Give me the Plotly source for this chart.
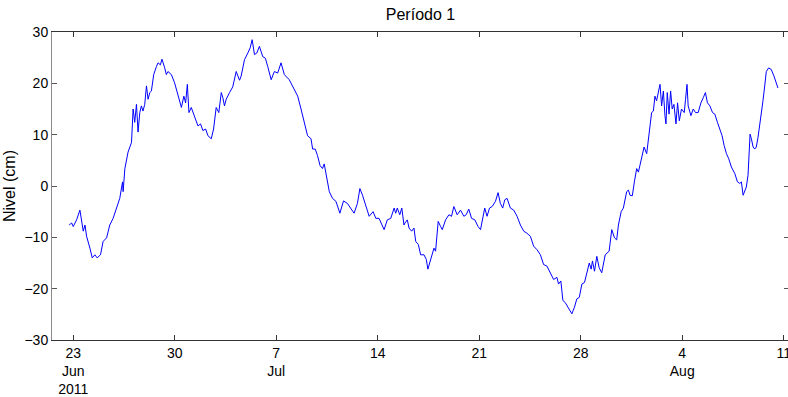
import pandas as pd
import plotly.graph_objects as go

# Days since 2011-06-23 00:00 and water level (cm)
dias = [-0.28, -0.11, 0.00, 0.23, 0.46, 0.58, 0.69, 0.81, 0.92, 1.15, 1.31, 1.49, 1.65, 1.88,
        2.06, 2.30, 2.52, 2.75, 2.99, 3.21, 3.40, 3.44, 3.56, 3.78, 4.02, 4.13, 4.24, 4.36,
        4.47, 4.59, 4.70, 4.81, 4.93, 5.05, 5.16, 5.28, 5.39, 5.55, 5.74, 5.85, 6.01, 6.12,
        6.31, 6.42, 6.53, 6.77, 6.99, 7.22, 7.46, 7.63, 7.75, 7.87, 7.98, 8.14, 8.37, 8.60,
        8.78, 8.94, 9.13, 9.29, 9.52, 9.68, 9.86, 10.04, 10.21, 10.32, 10.43, 10.55, 10.78,
        11.00, 11.24, 11.47, 11.58, 11.81, 12.04, 12.20, 12.34, 12.50, 12.66, 12.84, 13.07,
        13.25, 13.41, 13.65, 13.87, 14.10, 14.33, 14.56, 14.90, 15.25, 15.48, 15.71, 15.94,
        16.16, 16.40, 16.51, 16.69, 16.85, 17.02, 17.19, 17.31, 17.47, 17.66, 17.88, 18.12,
        18.39, 18.64, 18.91, 19.15, 19.37, 19.60, 19.77, 19.95, 20.18, 20.41, 20.68, 20.87,
        21.09, 21.25, 21.44, 21.66, 21.90, 22.13, 22.24, 22.35, 22.52, 22.66, 22.74, 22.81,
        22.88, 23.04, 23.16, 23.34, 23.50, 23.62, 23.80, 23.96, 24.19, 24.35, 24.46, 24.58,
        24.72, 24.88, 24.99, 25.17, 25.34, 25.45, 25.68, 25.91, 26.09, 26.25, 26.48, 26.71,
        26.94, 27.10, 27.28, 27.47, 27.70, 27.92, 28.09, 28.20, 28.38, 28.54, 28.71, 28.89,
        29.12, 29.30, 29.46, 29.62, 29.76, 29.92, 30.15, 30.38, 30.61, 30.84, 31.07, 31.29,
        31.53, 31.75, 31.98, 32.22, 32.44, 32.67, 32.90, 33.13, 33.36, 33.47, 33.63, 33.77,
        33.93, 34.04, 34.21, 34.39, 34.57, 34.73, 34.90, 35.08, 35.26, 35.42, 35.59, 35.72,
        35.81, 35.95, 36.11, 36.27, 36.45, 36.69, 36.96, 37.14, 37.33, 37.48, 37.60, 37.79,
        37.94, 38.17, 38.29, 38.40, 38.56, 38.70, 38.86, 38.98, 39.20, 39.37, 39.55, 39.66,
        39.78, 39.89, 40.01, 40.12, 40.23, 40.35, 40.47, 40.58, 40.70, 40.81, 40.88, 40.97,
        41.09, 41.20, 41.31, 41.43, 41.57, 41.68, 41.80, 41.95, 42.14, 42.23, 42.33, 42.41,
        42.60, 42.76, 42.92, 43.10, 43.29, 43.45, 43.60, 43.74, 43.91, 44.09, 44.25, 44.43,
        44.59, 44.75, 44.89, 45.05, 45.21, 45.39, 45.63, 45.81, 45.97, 46.08, 46.20, 46.31,
        46.42, 46.54, 46.61, 46.68, 46.77, 46.89, 47.00, 47.11, 47.23, 47.35, 47.46, 47.57,
        47.69, 47.80, 47.96, 48.14, 48.33, 48.49, 48.60]

nivel = [-7.6, -7.2, -7.9, -6.6, -4.7, -6.6, -8.8, -7.6, -9.8, -12.1, -14.0, -13.4, -14.0, -13.4,
         -10.8, -10.1, -7.6, -6.3, -4.3, -2.4, 0.8, -1.1, 3.4, 6.6, 8.5, 15.0, 12.4, 15.9,
         10.5, 14.3, 15.6, 14.6, 15.9, 19.5, 16.9, 18.2, 18.5, 21.7, 23.3, 24.0, 23.6, 24.7,
         23.0, 21.7, 22.3, 21.7, 20.1, 17.8, 15.3, 17.5, 16.2, 19.8, 14.3, 15.3, 13.4, 11.7,
         12.1, 10.8, 11.1, 9.8, 9.2, 11.1, 15.3, 14.3, 18.2, 17.2, 15.6, 16.9, 18.2,
         19.3, 22.3, 20.6, 21.4, 24.6, 25.9, 26.9, 28.5, 25.6, 25.9, 27.2, 25.2,
         24.9, 23.3, 20.7, 22.3, 22.0, 24.0, 21.7, 20.7, 18.8, 17.5, 15.0, 12.4,
         9.8, 9.2, 7.2, 7.2, 5.9, 4.0, 3.4, 4.3, 2.1, -1.1, -2.4, -3.0,
         -5.3, -2.9, -3.4, -4.3, -5.3, -3.4, -0.5, -1.8, -3.7, -5.9, -5.0, -6.3,
         -6.3, -7.2, -8.5, -6.6, -6.3, -4.3, -5.3, -4.3, -5.6, -4.3, -5.9, -7.6,
         -7.2, -6.6, -8.2, -8.8, -8.2, -10.8, -11.4, -13.4, -13.4, -14.3, -16.2, -15.0,
         -13.7, -12.1, -12.7, -6.9, -7.9, -8.5, -6.6, -5.6, -5.9, -4.0, -5.6, -4.7,
         -5.9, -5.6, -4.5, -6.3, -6.6, -7.9, -8.5, -6.9, -4.3, -5.9, -4.3, -4.0,
         -3.0, -1.3, -3.4, -4.3, -2.7, -2.4, -4.3, -4.7, -5.9, -7.6, -8.8, -9.2,
         -9.8, -11.7, -12.4, -13.4, -15.3, -15.6, -16.9, -18.2, -17.8, -19.1, -18.5, -22.3,
         -22.7, -23.3, -24.0, -24.9, -23.6, -22.0, -21.7, -19.1, -18.8, -17.2, -15.0, -16.2,
         -14.6, -16.6, -13.7, -15.9, -16.9, -13.4, -12.7, -8.5, -10.1, -10.5, -7.6, -5.0,
         -4.3, -1.1, -0.8, -1.8, -1.9, 0.8, 3.4, 2.7, 5.6, 7.6, 6.3, 8.8,
         10.8, 14.3, 14.6, 17.5, 16.6, 18.2, 19.8, 15.6, 18.5, 13.7, 12.1, 18.2,
         14.0, 18.5, 15.0, 15.9, 12.1, 16.2, 12.7, 15.0, 14.3, 16.9, 19.8, 15.6,
         13.7, 15.0, 14.3, 14.3, 16.2, 17.2, 18.2, 16.2, 15.6, 14.3, 14.0, 12.4,
         11.1, 9.8, 7.9, 6.3, 5.3, 3.7, 2.4, 0.8, 0.5, 0.8, -1.8, -0.8,
         -0.2, 2.1, 6.6, 10.1, 9.2, 7.6, 7.2, 7.6, 9.5, 11.7, 14.3, 16.6,
         19.5, 22.3, 23.0, 22.7, 21.4, 19.8, 19.1]

tick_fechas = ["2011-06-23", "2011-06-30", "2011-07-07", "2011-07-14",
               "2011-07-21", "2011-07-28", "2011-08-04", "2011-08-11"]
tick_textos = ["23<br>Jun<br>2011", "30", "7<br>Jul", "14", "21", "28", "4<br>Aug", "11"]
y_ticks = [-30, -20, -10, 0, 10, 20, 30]

inicio = pd.Timestamp("2011-06-23")
fechas = inicio + pd.to_timedelta(dias, unit="D")

fig = go.Figure()
fig.add_trace(go.Scatter(x=fechas, y=nivel, mode="lines",
                         line=dict(color="#0000ff", width=1), showlegend=False))

FAM = "Liberation Sans, Arial, sans-serif"
tfont = dict(family=FAM, size=14, color="#000000")

fig.update_layout(
    width=791, height=397,
    margin=dict(l=52, r=0, t=32, b=54),
    paper_bgcolor="white", plot_bgcolor="white",
    font=tfont,
    title=dict(text="Período 1", x=0.5, xref="paper", xanchor="center",
               y=1 - 14 / 397, yref="container", yanchor="middle",
               font=dict(family=FAM, size=16, color="#000")),
)
fig.update_xaxes(
    type="date",
    range=[inicio - pd.Timedelta(days=1.465), inicio + pd.Timedelta(days=49.365)],
    tickmode="array", tickvals=tick_fechas, ticktext=tick_textos,
    ticks="inside", ticklen=5, tickcolor="#333333", tickwidth=1,
    showline=True, linecolor="#333333", linewidth=1, mirror="ticks",
    showgrid=False, zeroline=False, tickfont=tfont, ticklabeloverflow="allow",
)
fig.update_yaxes(
    range=[-30, 30], tickmode="array", tickvals=y_ticks,
    ticks="inside", ticklen=5, tickcolor="#555555", tickwidth=1,
    showline=True, linecolor="#8a8a8a", linewidth=1, mirror="ticks",
    showgrid=False, zeroline=False, tickfont=tfont,
    title=dict(text="Nivel (cm)", font=dict(family=FAM, size=16, color="#000"), standoff=4),
)

fig.write_html("out.html",
               post_script="document.documentElement.style.overflow='hidden';"
                           "document.body.style.overflow='hidden';")
